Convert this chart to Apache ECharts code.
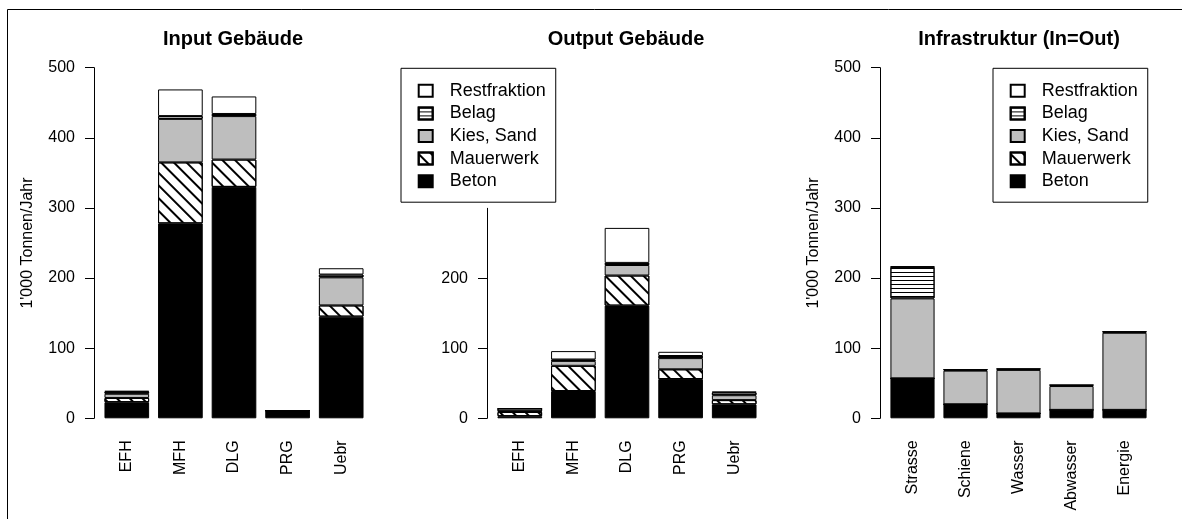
<!DOCTYPE html>
<html>
<head>
<meta charset="utf-8">
<script src="https://cdn.jsdelivr.net/npm/echarts@6/dist/echarts.min.js"></script>
<style>
  html, body { margin: 0; padding: 0; background: #fff; }
  #chart { width: 1182px; height: 519px; }
</style>
</head>
<body>
<div id="chart"></div>
<script>
const buildingCats = ['EFH', 'MFH', 'DLG', 'PRG', 'Uebr'];
const infraCats = ['Strasse', 'Schiene', 'Wasser', 'Abwasser', 'Energie'];
const materials = ['Beton', 'Mauerwerk', 'Kies, Sand', 'Belag', 'Restfraktion'];

// Input Gebäude (1'000 t/Jahr)
const inBeton = [23, 278, 330, 11, 145];
const inMauerwerk = [6, 87, 39, 0, 16];
const inKies = [6, 62, 62, 0, 40];
const inBelag = [3, 4, 3, 0, 4];
const inRest = [1, 38, 25, 0, 9];

// Output Gebäude
const outBeton = [3, 39, 161, 56, 20];
const outMauerwerk = [6, 36, 43, 14, 6];
const outKies = [1, 7, 15, 16, 7];
const outBelag = [4, 2, 3, 3, 4];
const outRest = [0, 12, 50, 6, 1];

// Infrastruktur (In=Out)
const infBeton = [57, 20, 7, 12, 12];
const infMauerwerk = [0, 0, 0, 0, 0];
const infKies = [114, 48, 62, 34, 110];
const infBelag = [45, 1.5, 1.5, 1.5, 1.5];
const infRest = [0.5, 0, 0, 0, 0];

const yTicksFull = [0, 500];   // min / max of panels 1 and 3
const yTicksOut = [0, 300];    // min / max of panel 2

const font = 'Liberation Sans, Arial, sans-serif';

const styles = {
  'Beton': { color: '#000' },
  'Mauerwerk': {
    color: '#fff',
    decal: { symbol: 'rect', symbolSize: 1, dashArrayX: [1, 0], dashArrayY: [1.3, 6.5], rotation: Math.PI / 4, color: '#000' }
  },
  'Kies, Sand': { color: '#bebebe' },
  'Belag': {
    color: '#fff',
    decal: { symbol: 'rect', symbolSize: 1, dashArrayX: [1, 0], dashArrayY: [1, 2.6], rotation: 0, color: '#000' }
  },
  'Restfraktion': { color: '#fff' }
};

const panelData = [
  [inBeton, inMauerwerk, inKies, inBelag, inRest],
  [outBeton, outMauerwerk, outKies, outBelag, outRest],
  [infBeton, infMauerwerk, infKies, infBelag, infRest]
];

const grids = [
  { left: 100, width: 268, top: 67.7, height: 350.6 },
  { left: 493, width: 268, top: 208.3, height: 210 },
  { left: 886, width: 265, top: 67.7, height: 350.6 }
];

const xAxes = [buildingCats, buildingCats, infraCats].map((cats, i) => ({
  type: 'category',
  gridIndex: i,
  data: cats,
  axisLine: { show: false },
  axisTick: { show: false },
  axisLabel: { rotate: 90, margin: 22, color: '#000', fontSize: 16, fontFamily: font }
}));

const yAxes = [0, 1, 2].map(i => ({
  type: 'value',
  gridIndex: i,
  min: i === 1 ? yTicksOut[0] : yTicksFull[0],
  max: i === 1 ? yTicksOut[1] : yTicksFull[1],
  interval: 100,
  offset: 6,
  name: i === 1 ? '' : "1'000 Tonnen/Jahr",
  nameLocation: 'middle',
  nameGap: 58,
  nameTextStyle: { color: '#000', fontSize: 16, fontFamily: font },
  axisLine: { show: true, lineStyle: { color: '#000', width: 1 } },
  axisTick: { show: true, length: 9, lineStyle: { color: '#000', width: 1 } },
  axisLabel: { margin: 19, color: '#000', fontSize: 16, fontFamily: font, showMaxLabel: i !== 1 },
  splitLine: { show: false }
}));

const series = [];
panelData.forEach((sets, p) => {
  sets.forEach((vals, k) => {
    const name = materials[k];
    series.push({
      name: name,
      type: 'bar',
      stack: 'panel' + p,
      xAxisIndex: p,
      yAxisIndex: p,
      data: vals,
      barCategoryGap: '16.7%',
      itemStyle: Object.assign({ borderColor: '#000', borderWidth: 1 }, styles[name]),
      emphasis: { disabled: true }
    });
  });
});

const legendOrder = ['Restfraktion', 'Belag', 'Kies, Sand', 'Mauerwerk', 'Beton'];
const legendBase = {
  orient: 'vertical',
  top: 68.3,
  data: legendOrder,
  icon: 'rect',
  itemWidth: 14,
  itemHeight: 12,
  itemGap: 4.6,
  selectedMode: false,
  backgroundColor: '#fff',
  borderColor: '#000',
  borderWidth: 1,
  padding: [13.5, 10, 12, 16.7],
  textStyle: { color: '#000', fontSize: 18, lineHeight: 18, fontFamily: font, padding: [0, 0, 0, 12] }
};

const titleBase = {
  top: 29,
  padding: 0,
  textAlign: 'center',
  textStyle: { color: '#000', fontSize: 20, fontWeight: 'bold', fontFamily: font }
};

const chart = echarts.init(document.getElementById('chart'));
chart.setOption({
  animation: false,
  title: [
    Object.assign({ text: 'Input Gebäude', left: 233 }, titleBase),
    Object.assign({ text: 'Output Gebäude', left: 626 }, titleBase),
    Object.assign({ text: 'Infrastruktur (In=Out)', left: 1019 }, titleBase)
  ],
  legend: [
    Object.assign({ left: 401 }, legendBase),
    Object.assign({ left: 993 }, legendBase)
  ],
  grid: grids,
  xAxis: xAxes,
  yAxis: yAxes,
  series: series,
  graphic: [{
    type: 'polyline',
    shape: { points: [[7.5, 519], [7.5, 9.5], [1182, 9.5]] },
    style: { stroke: '#000', lineWidth: 1, fill: null },
    silent: true
  }]
});
</script>
</body>
</html>
